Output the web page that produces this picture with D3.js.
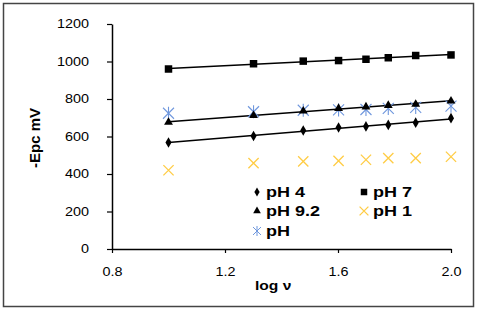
<!DOCTYPE html>
<html>
<head>
<meta charset="utf-8">
<script src="https://cdn.jsdelivr.net/npm/d3@7"></script>
<style>
  body { margin: 0; background: #fff; }
  svg { font-family: Arial, "Liberation Sans", sans-serif; }
</style>
</head>
<body>
<div id="chart"></div>
<script>
// log of scan rate
const logV = [1.0, 1.301, 1.477, 1.602, 1.699, 1.778, 1.875, 2.0];

const pH4   = [568, 603, 632, 648, 654, 662, 674, 698];
const pH7   = [960, 988, 1002, 1005, 1012, 1020, 1032, 1035];
const pH92  = [676, 712, 736, 750, 758, 766, 772, 789];
const pH0   = [724, 732, 740, 742, 744, 750, 755, 762];
const pH1x  = [1.0, 1.301, 1.477, 1.602, 1.699, 1.778, 1.875, 2.0];
const pH1   = [420, 458, 467, 470, 476, 485, 485, 492];

const xTicks = [0.8, 1.2, 1.6, 2.0];
const yTicks = [0, 200, 400, 600, 800, 1000, 1200];

const W = 480, H = 311;
const margin = {left: 112, right: 29, top: 24, bottom: 62};
const SX = 1.2; // the text in the picture is a little wide

const svg = d3.select("#chart").append("svg")
  .attr("width", W).attr("height", H);

svg.append("rect")
  .attr("x", 3.5).attr("y", 3.5)
  .attr("width", 470).attr("height", 303)
  .attr("fill", "#fff").attr("stroke", "#444").attr("stroke-width", 1.5);

const x = d3.scaleLinear().domain([0.8, 2.0]).range([margin.left, W - margin.right]);
const y = d3.scaleLinear().domain([0, 1200]).range([H - margin.bottom, margin.top]);

// axes
const xAxis = svg.append("g")
  .attr("transform", `translate(0,${y(0)})`)
  .call(d3.axisBottom(x).tickValues(xTicks).tickFormat(d3.format(".1f")).tickSize(4).tickSizeOuter(0).tickPadding(14));
const yAxis = svg.append("g")
  .attr("transform", `translate(${x(0.8)},0)`)
  .call(d3.axisLeft(y).tickValues(yTicks).tickFormat(d3.format("d")).tickSize(5).tickSizeOuter(0).tickPadding(18));

[xAxis, yAxis].forEach(g => {
  g.select(".domain").attr("stroke", "#000").attr("stroke-width", 1.5);
  g.selectAll(".tick line").attr("stroke", "#000").attr("stroke-width", 1.2);
  g.selectAll(".tick text").attr("fill", "#000").style("font-size", "12px")
    .style("font-family", "Arial, 'Liberation Sans', sans-serif")
    .each(function() {
      const t = d3.select(this);
      const tx = +t.attr("x") || 0, ty = +t.attr("y") || 0;
      t.attr("x", 0).attr("y", 0).attr("transform", `translate(${tx},${ty}) scale(${SX},1)`);
    });
});

// axis titles
svg.append("text")
  .attr("transform", `translate(40,138) rotate(-90)`)
  .attr("text-anchor", "middle")
  .style("font-size", "15px").style("font-weight", "bold")
  .text("-Epc mV");
svg.append("text")
  .attr("transform", `translate(255,290) scale(${SX},1)`)
  .style("font-size", "13px").style("font-weight", "bold")
  .text("log ν");

// linear trendline
function trend(xs, ys) {
  const mx = d3.mean(xs), my = d3.mean(ys);
  const b = d3.sum(xs, (v, i) => (v - mx) * (ys[i] - my)) / d3.sum(xs, v => (v - mx) ** 2);
  const a = my - b * mx;
  const x0 = d3.min(xs), x1 = d3.max(xs);
  return [[x0, a + b * x0], [x1, a + b * x1]];
}
const line = d3.line().x(d => x(d[0])).y(d => y(d[1]));

[pH4, pH7, pH92].forEach(s => {
  svg.append("path")
    .attr("d", line(trend(logV, s)))
    .attr("fill", "none").attr("stroke", "#000").attr("stroke-width", 1.5);
});

const series = [
  {name: "pH 4",   xs: logV, ys: pH4,  shape: d3.symbolDiamond,  size: 32, fill: "#000"},
  {name: "pH 7",   xs: logV, ys: pH7,  shape: d3.symbolSquare,   size: 56, fill: "#000"},
  {name: "pH 9.2", xs: logV, ys: pH92, shape: d3.symbolTriangle, size: 34, fill: "#000"},
  {name: "pH 1",   xs: pH1x, ys: pH1,  shape: d3.symbolTimes,    size: 70, fill: "none", stroke: "#ffcc44"},
  {name: "pH",     xs: logV, ys: pH0,  shape: "star",            size: 70, fill: "none", stroke: "#6f97dd"}
];

function drawStar(g, cx, cy, r, color, w) {
  const p = g.append("g").attr("transform", `translate(${cx},${cy})`)
    .attr("stroke", color).attr("stroke-width", w);
  p.append("line").attr("x1", -r).attr("y1", -r).attr("x2", r).attr("y2", r);
  p.append("line").attr("x1", -r).attr("y1", r).attr("x2", r).attr("y2", -r);
  p.append("line").attr("x1", 0).attr("y1", -r - 1).attr("x2", 0).attr("y2", r + 1);
}

function drawMarker(g, s, cx, cy) {
  if (s.shape === "star") { drawStar(g, cx, cy, 5.5, s.stroke, 1.1); return; }
  const m = g.append("path").attr("d", d3.symbol(s.shape, s.size)())
    .attr("transform", `translate(${cx},${cy})`)
    .attr("fill", s.fill);
  if (s.stroke) m.attr("stroke", s.stroke).attr("stroke-width", 1.3);
}

// pH 1 and pH first, black markers on top
[series[3], series[4], series[0], series[1], series[2]].forEach(s => {
  const g = svg.append("g");
  s.ys.forEach((v, i) => drawMarker(g, s, x(s.xs[i]), y(v)));
});

// legend
const legendPos = [[257, 192], [364, 192], [257, 211], [364, 211], [257, 231]];
const lg = svg.append("g");
series.forEach((s, i) => {
  const [lx, ly] = legendPos[i];
  if (s.shape === "star") {
    drawStar(lg, lx, ly, 4, s.stroke, 1);
  } else {
    drawMarker(lg, Object.assign({}, s, {size: s.size * 0.75}), lx, ly);
  }
  lg.append("text")
    .attr("transform", `translate(${lx + 9},${ly + 5}) scale(${SX},1)`)
    .style("font-size", "15px").style("font-weight", "bold")
    .text(s.name);
});
</script>
</body>
</html>
